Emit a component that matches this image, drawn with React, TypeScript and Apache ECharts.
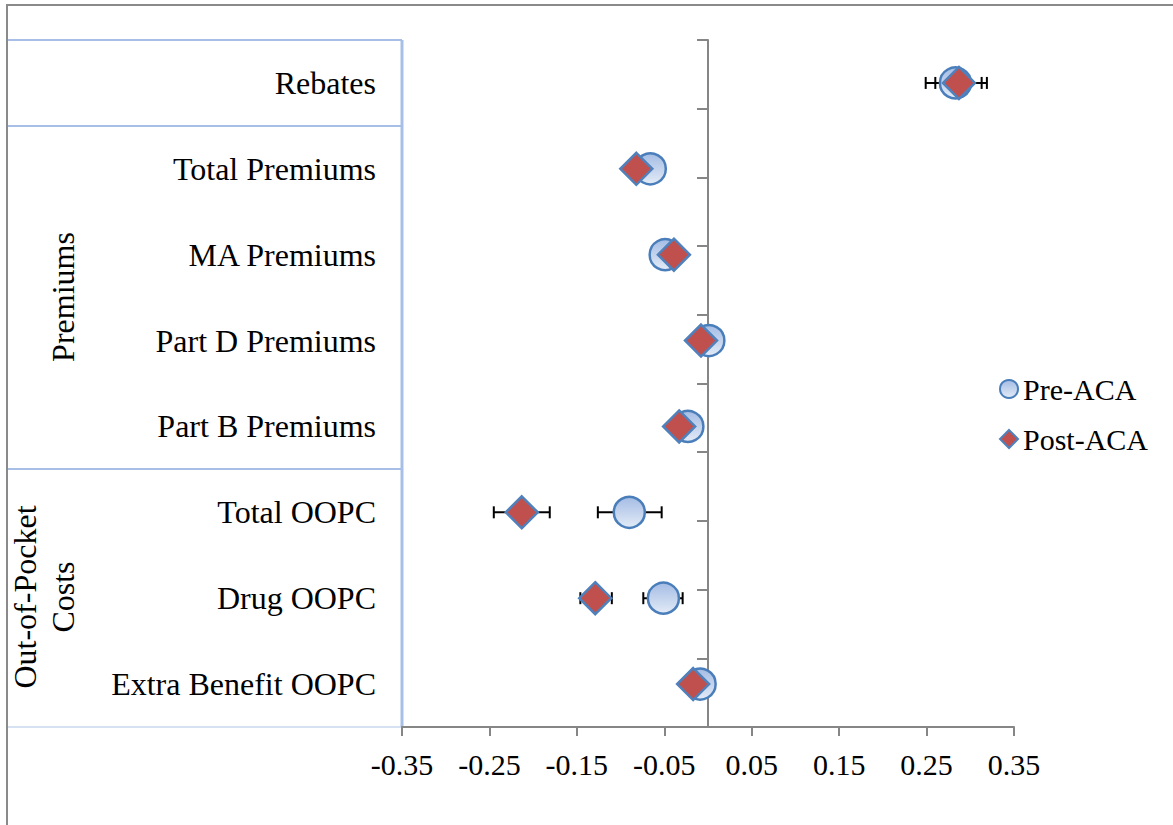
import React, { useEffect, useRef } from "react";
import * as echarts from "echarts";

const categories = [
  "Rebates",
  "Total Premiums",
  "MA Premiums",
  "Part D Premiums",
  "Part B Premiums",
  "Total OOPC",
  "Drug OOPC",
  "Extra Benefit OOPC",
];

const preACA = [0.283, -0.066, -0.049, 0.001, -0.023, -0.09, -0.051, -0.009];
const preLow = [0.249, -0.074, -0.057, -0.007, -0.031, -0.126, -0.074, -0.017];
const preHigh = [0.313, -0.058, -0.041, 0.009, -0.015, -0.053, -0.029, -0.001];

const postACA = [0.287, -0.082, -0.039, -0.008, -0.033, -0.213, -0.129, -0.017];
const postLow = [0.26, -0.09, -0.047, -0.016, -0.041, -0.245, -0.146, -0.025];
const postHigh = [0.319, -0.074, -0.031, 0.0, -0.025, -0.181, -0.11, -0.009];

const xTicks = [-0.35, -0.25, -0.15, -0.05, 0.05, 0.15, 0.25, 0.35];

const seriesNames = ["Pre-ACA", "Post-ACA"];

const FONT = "'Liberation Serif', 'Times New Roman', serif";

export default function App() {
  const ref = useRef<HTMLDivElement>(null);

  useEffect(() => {
    if (!ref.current) return;
    const chart = echarts.init(ref.current, undefined, { renderer: "svg" });

    const errData: number[][] = [];
    categories.forEach((_, i) => {
      errData.push([preLow[i], preHigh[i], i]);
      errData.push([postLow[i], postHigh[i], i]);
    });

    const circleFill = new echarts.graphic.LinearGradient(0, 0, 0, 1, [
      { offset: 0, color: "#A4BCE4" },
      { offset: 1, color: "#E3EBF7" },
    ]);

    const option: any = {
      animation: false,
      backgroundColor: "#ffffff",
      grid: { left: 402, right: 159, top: 40, bottom: 98, containLabel: false },
      legend: {
        orient: "vertical",
        left: 994,
        top: 369,
        itemWidth: 18,
        itemHeight: 18,
        itemGap: 20,
        data: seriesNames,
        textStyle: { fontFamily: FONT, fontSize: 30, color: "#000" },
      },
      xAxis: {
        type: "value",
        min: -0.35,
        max: 0.35,
        axisLine: { show: true, onZero: false, lineStyle: { color: "#868686", width: 2 } },
        axisTick: {
          show: true,
          customValues: xTicks,
          length: 9,
          lineStyle: { color: "#868686", width: 2 },
        },
        axisLabel: {
          customValues: xTicks,
          formatter: (v: number) => v.toFixed(2),
          fontFamily: FONT,
          fontSize: 30,
          color: "#000",
          margin: 22,
        },
        splitLine: { show: false },
      },
      yAxis: [
        {
          type: "value",
          min: 0,
          max: 10,
          interval: 1,
          axisLine: { show: true, onZero: true, lineStyle: { color: "#868686", width: 2 } },
          axisTick: { show: true, length: 11, lineStyle: { color: "#868686", width: 2 } },
          axisLabel: { show: false },
          splitLine: { show: false },
        },
        {
          type: "category",
          data: categories,
          inverse: true,
          position: "left",
          axisLine: { show: false, onZero: false },
          axisTick: { show: false },
          axisLabel: { fontFamily: FONT, fontSize: 32, color: "#000", margin: 26 },
          splitLine: { show: false },
        },
      ],
      graphic: [
        {
          type: "polyline",
          shape: { points: [[7, 825], [7, 5], [1173, 5]] },
          style: { stroke: "#8A8A8A", lineWidth: 2, fill: null },
          silent: true,
        },
        { type: "line", shape: { x1: 8, y1: 40, x2: 402, y2: 40 }, style: { stroke: "#A7BFE6", lineWidth: 2 }, silent: true },
        { type: "line", shape: { x1: 8, y1: 126, x2: 402, y2: 126 }, style: { stroke: "#A7BFE6", lineWidth: 2 }, silent: true },
        { type: "line", shape: { x1: 8, y1: 469, x2: 402, y2: 469 }, style: { stroke: "#A7BFE6", lineWidth: 2 }, silent: true },
        { type: "line", shape: { x1: 8, y1: 727, x2: 402, y2: 727 }, style: { stroke: "#D6E1F2", lineWidth: 2 }, silent: true },
        { type: "line", shape: { x1: 402, y1: 40, x2: 402, y2: 727 }, style: { stroke: "#A7BFE6", lineWidth: 3 }, silent: true },
        {
          type: "text",
          x: 63,
          y: 297,
          rotation: Math.PI / 2,
          style: {
            text: "Premiums",
            fontFamily: FONT,
            fontSize: 32,
            fill: "#000",
            align: "center",
            verticalAlign: "middle",
          },
          silent: true,
        },
        {
          type: "text",
          x: 44,
          y: 597,
          rotation: Math.PI / 2,
          style: {
            text: "Out-of-Pocket\nCosts",
            fontFamily: FONT,
            fontSize: 32,
            lineHeight: 38,
            fill: "#000",
            align: "center",
            verticalAlign: "middle",
          },
          silent: true,
        },
      ],
      series: [
        {
          type: "custom",
          name: "errors",
          yAxisIndex: 1,
          silent: true,
          z: 1,
          encode: { x: [0, 1], y: 2 },
          data: errData,
          renderItem: (params: any, api: any) => {
            const idx = api.value(2);
            const lo = api.coord([api.value(0), idx]);
            const hi = api.coord([api.value(1), idx]);
            const h = 6;
            const style = { stroke: "#000", lineWidth: 2 };
            return {
              type: "group",
              children: [
                { type: "line", shape: { x1: lo[0], y1: lo[1], x2: hi[0], y2: hi[1] }, style },
                { type: "line", shape: { x1: lo[0], y1: lo[1] - h, x2: lo[0], y2: lo[1] + h }, style },
                { type: "line", shape: { x1: hi[0], y1: hi[1] - h, x2: hi[0], y2: hi[1] + h }, style },
              ],
            };
          },
        },
        {
          type: "scatter",
          name: seriesNames[0],
          yAxisIndex: 1,
          z: 2,
          symbol: "circle",
          symbolSize: 31,
          itemStyle: { color: circleFill, borderColor: "#4A7EBB", borderWidth: 2.5, opacity: 1 },
          data: preACA.map((v, i) => [v, categories[i]]),
        },
        {
          type: "scatter",
          name: seriesNames[1],
          yAxisIndex: 1,
          z: 3,
          symbol: "diamond",
          symbolSize: 32,
          itemStyle: { color: "#C0504D", borderColor: "#4F81BD", borderWidth: 2.5, opacity: 1 },
          data: postACA.map((v, i) => [v, categories[i]]),
        },
      ],
    };

    chart.setOption(option);
    return () => chart.dispose();
  }, []);

  return (
    <div
      ref={ref}
      style={{ position: "absolute", left: 0, top: 0, width: 1173, height: 825, background: "#fff" }}
    />
  );
}
